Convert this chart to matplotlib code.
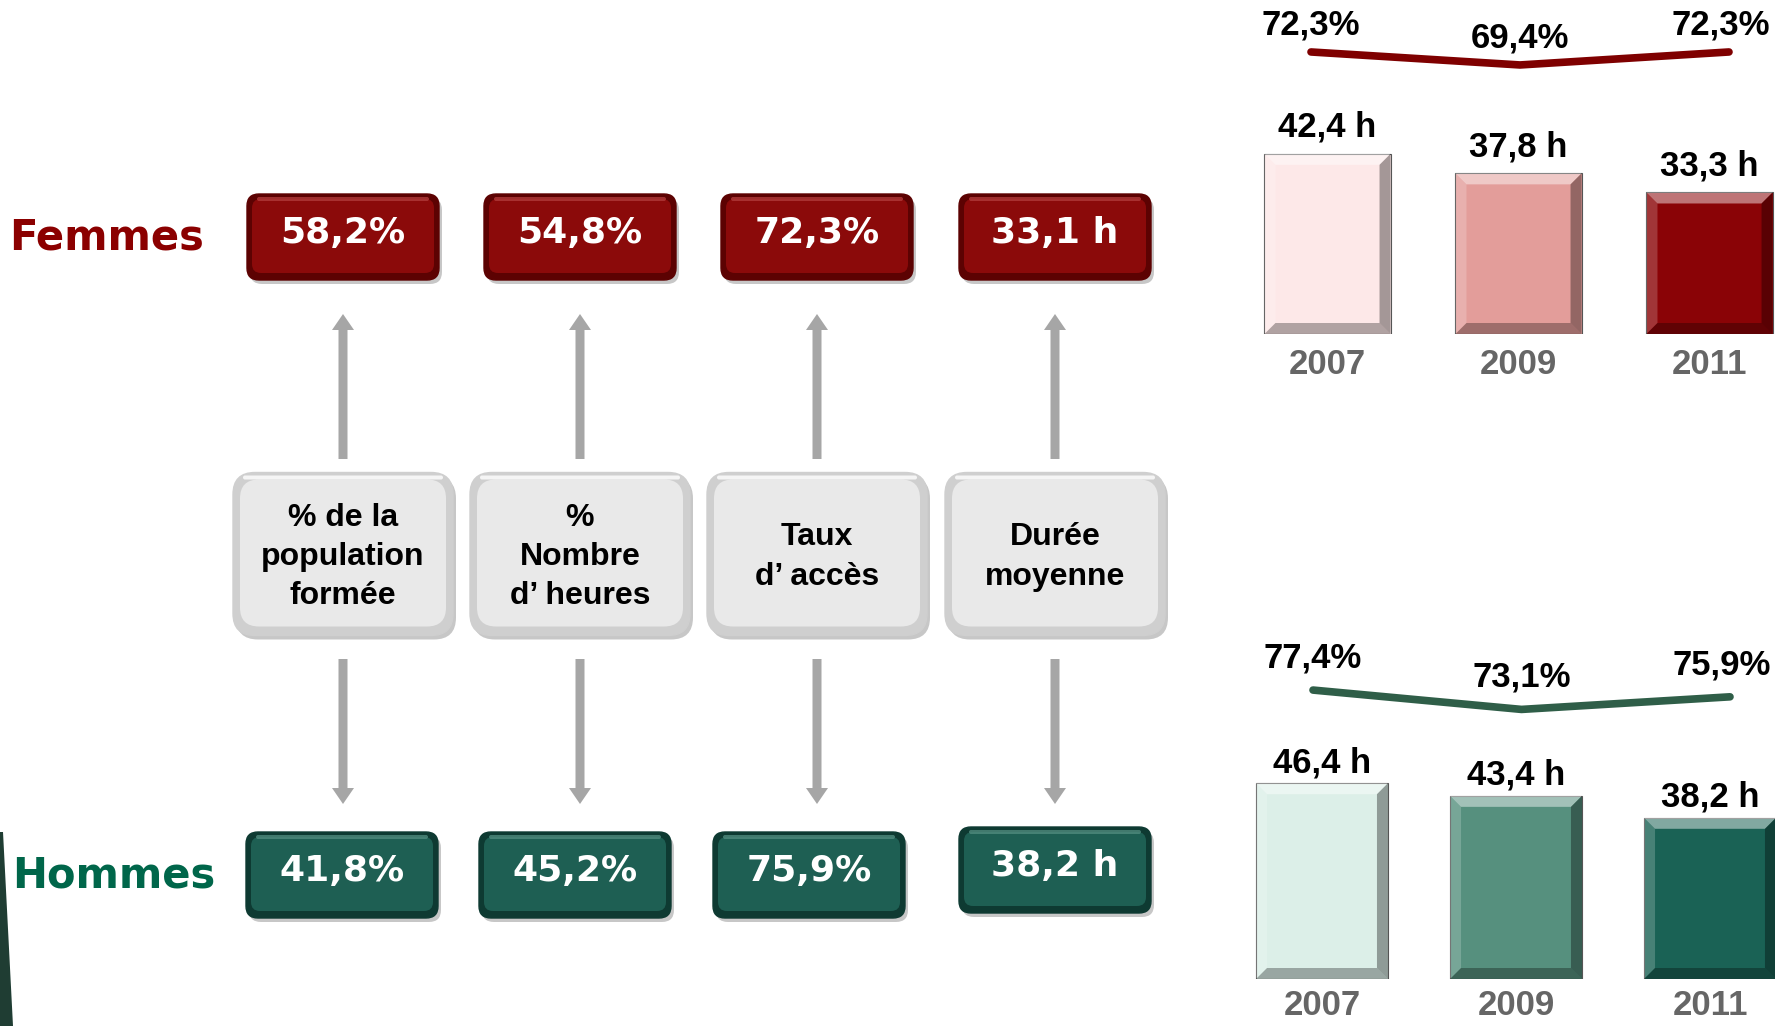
import matplotlib.pyplot as plt
from matplotlib.patches import FancyBboxPatch, FancyArrow, Polygon
from matplotlib.transforms import IdentityTransform

# Data
indicators = ['% de la\npopulation\nformée', '%\nNombre\nd\u2019 heures', 'Taux\nd\u2019 accès', 'Durée\nmoyenne']
femmes_vals = ['58,2%', '54,8%', '72,3%', '33,1 h']
hommes_vals = ['41,8%', '45,2%', '75,9%', '38,2 h']

years = ['2007', '2009', '2011']
femmes_hours = [42.4, 37.8, 33.3]
femmes_access = [72.3, 69.4, 72.3]
hommes_hours = [46.4, 43.4, 38.2]
hommes_access = [77.4, 73.1, 75.9]

# Colours
RED = '#8b0a0a'
RED_DARK = '#5c0202'
GREEN = '#1e5f53'
GREEN_DARK = '#0e3a32'
femmes_bar_colors = ['#fde8e8', '#e39d9a', '#8a0306']
hommes_bar_colors = ['#dcefe8', '#56907e', '#1a6255']

W, H = 1775, 1026
fig = plt.figure(figsize=(W / 100, H / 100), dpi=100)
fig.patch.set_facecolor('white')

# main canvas in pixel coordinates
ax = fig.add_axes([0, 0, 1, 1])
ax.set_xlim(0, W)
ax.set_ylim(H, 0)
ax.axis('off')

font_main = ['Liberation Sans', 'DejaVu Sans']
font_box = ['DejaVu Sans']

col_x = [343, 580, 817, 1055]
hom_x = [342, 575, 809, 1055]


def rounded_box(cx, cy, w, h, fc, ec, r=12, highlight=None, inset=5):
    ax.add_patch(FancyBboxPatch((cx - w / 2 + 3, cy - h / 2 + 4), w, h,
                                boxstyle=f'round,pad=0,rounding_size={r}',
                                fc='#9a9a9a', ec='none', alpha=0.55, zorder=1))
    ax.add_patch(FancyBboxPatch((cx - w / 2, cy - h / 2), w, h,
                                boxstyle=f'round,pad=0,rounding_size={r}',
                                fc=ec, ec=ec, lw=1, zorder=2))
    ax.add_patch(FancyBboxPatch((cx - w / 2 + inset, cy - h / 2 + inset), w - 2 * inset, h - 2 * inset - 2,
                                boxstyle=f'round,pad=0,rounding_size={r - 3}',
                                fc=fc, ec='none', zorder=3))
    if highlight:
        ax.add_patch(FancyBboxPatch((cx - w / 2 + 10, cy - h / 2 + 3), w - 20, 4,
                                    boxstyle='round,pad=0,rounding_size=2',
                                    fc=highlight, ec='none', alpha=0.8, zorder=4))


# Row labels
ax.text(9, 238, 'Femmes', color='#8b0000', fontsize=30, fontweight='bold',
        family=font_box, ha='left', va='center')
ax.text(12, 875, 'Hommes', color='#00664a', fontsize=30, fontweight='bold',
        family=font_box, ha='left', va='center')

# Femmes boxes, indicator boxes, Hommes boxes, arrows
for i in range(4):
    rounded_box(col_x[i], 237, 192, 86, RED, RED_DARK, highlight='#b03a3a')
    ax.text(col_x[i], 233, femmes_vals[i], color='white', fontsize=26, fontweight='bold',
            family=font_box, ha='center', va='center', zorder=5)

    rounded_box(col_x[i], 554, 220, 163, '#e9e9e9', '#cfcfcf', r=22, highlight='#ffffff', inset=7)
    ax.text(col_x[i], 557, indicators[i], color='black', fontsize=23, fontweight='bold',
            family=font_main, ha='center', va='center', linespacing=1.4, zorder=5)

    hy = 875 if i < 3 else 870
    rounded_box(hom_x[i], hy, 192, 86, GREEN, GREEN_DARK, highlight='#4f8a7d')
    ax.text(hom_x[i], hy - 4, hommes_vals[i], color='white', fontsize=26, fontweight='bold',
            family=font_box, ha='center', va='center', zorder=5)

    ax.add_patch(FancyArrow(col_x[i], 459, 0, -145, width=9, head_width=22, head_length=16,
                            length_includes_head=True, fc='#a6a6a6', ec='none', zorder=2))
    ax.add_patch(FancyArrow(col_x[i], 659, 0, 145, width=9, head_width=22, head_length=16,
                            length_includes_head=True, fc='#a6a6a6', ec='none', zorder=2))

# dark wedge at the bottom-left edge
ax.add_patch(Polygon([[0, 832], [3, 832], [13, H], [0, H]], closed=True, fc='#1f3d33', ec='none'))


def bevel(bax, bar, d=11):
    # bevelled faces drawn in display pixels from the bar's own extent
    e = bar.get_window_extent()
    x0, x1, y0, y1 = e.x0, e.x1, e.y0, e.y1
    faces = [
        ([(x0, y1), (x1, y1), (x1 - d, y1 - d), (x0 + d, y1 - d)], 'white', 0.45),  # top
        ([(x0, y0), (x0, y1), (x0 + d, y1 - d), (x0 + d, y0 + d)], 'white', 0.2),   # left
        ([(x1, y0), (x1, y1), (x1 - d, y1 - d), (x1 - d, y0 + d)], 'black', 0.35),  # right
        ([(x0, y0), (x1, y0), (x1 - d, y0 + d), (x0 + d, y0 + d)], 'black', 0.3),   # bottom
    ]
    for pts, c, a in faces:
        bax.add_patch(Polygon(pts, closed=True, fc=c, alpha=a, ec='none',
                              transform=IdentityTransform(), clip_on=False))


def bar_panel(rect, spacing, bar_w, hours, colors, ylim_top, label_gap, pad):
    bax = fig.add_axes(rect)
    bars = bax.bar(range(3), hours, width=bar_w, color=colors, edgecolor='#555555', linewidth=0.8)
    bax.set_xlim(-0.5, -0.5 + rect[2] * W / spacing)
    bax.set_ylim(0, ylim_top)
    for b in bars:
        bevel(bax, b)
    for b, v in zip(bars, hours):
        bax.annotate(f'{v:.1f} h'.replace('.', ','), (b.get_x() + b.get_width() / 2, v),
                     xytext=(0, label_gap), textcoords='offset pixels', ha='center', va='bottom',
                     fontsize=25, fontweight='bold', family=font_main, annotation_clip=False)
    bax.set_xticks(range(3), years)
    bax.tick_params(axis='x', length=0, pad=pad, labelsize=25, labelcolor='#666666')
    for lab in bax.get_xticklabels():
        lab.set_fontweight('bold')
        lab.set_family(font_main)
    bax.set_yticks([])
    for s in bax.spines.values():
        s.set_visible(False)
    bax.patch.set_alpha(0)
    return bax


def line_panel(rect, x0, spacing, values, ylim, color, label_gap):
    lax = fig.add_axes(rect)
    left_px = rect[0] * W
    lax.set_xlim((left_px - x0) / spacing, (W - x0) / spacing)
    lax.set_ylim(*ylim)
    lax.plot(range(3), values, color=color, lw=5.5, solid_capstyle='round', solid_joinstyle='round')
    for i, v in enumerate(values):
        dx = -8 if i == 2 else 0
        lax.annotate(f'{v:.1f}%'.replace('.', ','), (i, v), xytext=(dx, label_gap),
                     textcoords='offset pixels', ha='center', va='center',
                     fontsize=25, fontweight='bold', family=font_main, annotation_clip=False)
    lax.axis('off')
    lax.patch.set_alpha(0)


# Femmes panel: baseline at y=334 px, 4.25 px per hour
top_rect = [1232 / W, (H - 334) / H, (W - 1232) / W, 334 / H]
bar_panel(top_rect, 191, 0.66, femmes_hours, femmes_bar_colors, 334 / 4.25, 10, 10)
line_panel(top_rect, 1311, 209, femmes_access, (9.35, 83.9), '#7f0000', 27)

# Hommes panel: baseline at y=979 px
bot_rect = [1225 / W, (H - 979) / H, (W - 1225) / W, 419 / H]
bar_panel(bot_rect, 194, 0.68, hommes_hours, hommes_bar_colors, 419 / 4.22, 4, 7)
line_panel(bot_rect, 1313, 208.5, hommes_access, (13.2, 106.3), '#2f5e48', 32)

plt.savefig('out.png', dpi=100)
